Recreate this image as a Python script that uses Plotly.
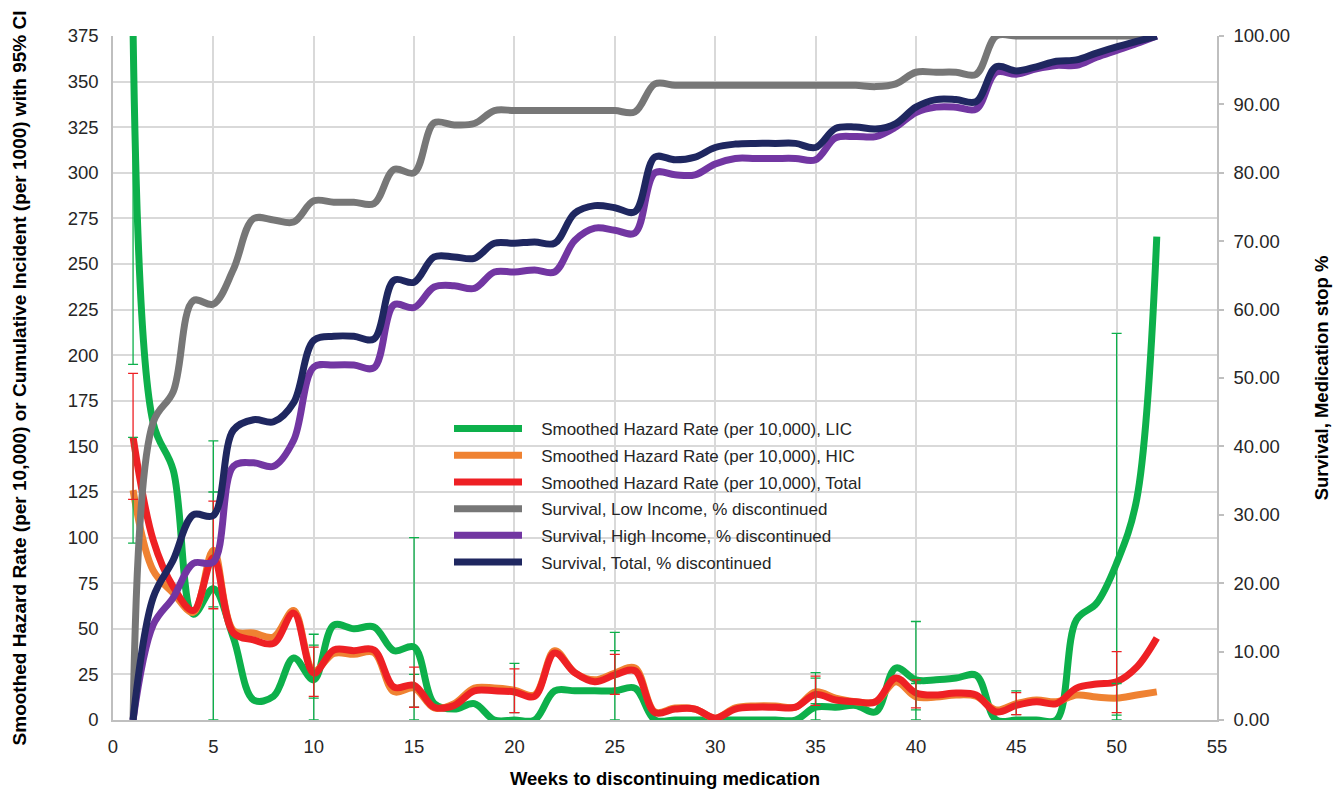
import plotly.graph_objects as go

weeks = list(range(1, 53))

# Smoothed hazard rates (per 10,000) - left axis
haz_lic = [378, 163, 137, 58, 72, 45, 11, 13, 34, 22, 52, 50, 51, 38, 40, 9, 6, 9, 0, 0,
           0, 16, 16, 16, 16, 17.5, 0, 0, 0, 0, 0, 0, 0, 0, 7, 7, 8, 4.5, 28.5, 22,
           22, 23, 24.5, 0, 0, 0, 0, 55, 64, 86, 121, 265]
haz_hic = [126, 82, 69.6, 59, 93, 49, 47.7, 45.5, 60, 27, 36.5, 36, 37, 15.5, 17.5, 6.6, 9, 17.5, 17.5, 16.4,
           13.7, 38, 26, 22, 25.7, 28.5, 4.4, 6.6, 6, 1, 6.6, 7.7, 7.7, 7, 15.4, 12, 10, 10, 21, 12.7,
           12.6, 13.7, 13, 5.5, 9, 11, 10, 13.7, 12.6, 12, 13.7, 15.4]
haz_total = [155, 98.7, 73, 60, 89, 47.7, 43.9, 42, 58.6, 25.7, 38.4, 38, 38.4, 18, 19, 7, 8, 16, 16, 15.4,
             13, 36.7, 26, 21, 24.7, 27, 4, 6, 6, 1, 6, 7, 7, 7, 14, 11, 10, 10, 23, 14.8,
             13.7, 14.8, 13.7, 4.4, 8, 10, 9, 17.5, 19.7, 21, 29, 45]

# Survival, % discontinued - right axis
surv_low = [0, 43.5, 48.0, 61.3, 60.8, 65.9, 73.3, 73.1, 72.8, 75.9, 75.7, 75.7, 75.5, 80.5, 80.0, 87.3, 87.0, 87.2, 89.1, 89.1,
            89.1, 89.1, 89.1, 89.1, 89.1, 88.9, 93.0, 92.8, 92.8, 92.8, 92.8, 92.8, 92.8, 92.8, 92.8, 92.8, 92.8, 92.6, 93.0, 94.7,
            94.7, 94.7, 94.4, 100, 100, 100, 100, 100, 100, 100, 100, 100]
surv_high = [0, 13.9, 17.9, 22.9, 23.1, 37.1, 37.6, 37.1, 40.9, 51.6, 51.9, 51.9, 51.5, 60.7, 60.3, 63.3, 63.5, 63.1, 65.5, 65.5,
             65.8, 65.5, 70.1, 71.9, 71.6, 71.2, 80.0, 79.7, 79.7, 81.3, 82.1, 82.1, 82.1, 82.1, 81.9, 85.1, 85.3, 85.3, 86.7, 88.8,
             89.6, 89.6, 89.3, 94.7, 94.4, 95.2, 95.7, 95.7, 96.9, 97.9, 98.9, 100]
surv_total = [0, 17.9, 23.4, 30.0, 29.9, 42.4, 43.9, 43.6, 46.4, 55.5, 56.1, 56.1, 55.7, 64.3, 64.0, 67.7, 67.7, 67.5, 69.7, 69.7,
              69.9, 69.7, 74.1, 75.2, 74.9, 74.3, 82.3, 81.9, 82.3, 83.7, 84.2, 84.3, 84.3, 84.3, 83.7, 86.5, 86.7, 86.4, 87.2, 89.6,
              90.7, 90.7, 90.4, 95.5, 94.9, 95.5, 96.3, 96.5, 97.5, 98.4, 99.2, 100]

# 95% CI (left axis units)
ci_lic_weeks = [1, 5, 10, 15, 25, 35, 40, 50]
ci_lic_lo = [195, 0, 0, 0, 0, 0, 0, 0]
ci_lic_hi = [600, 153, 47, 100, 48, 26, 54, 212]

ci_weeks = [1, 5, 10, 15, 20, 25, 35, 40, 45, 50]
ci_hic_lo = [97, 62, 12, 7, 4, 15, 9, 5.5, 3, 2.7]
ci_hic_hi = [155, 125, 41, 25, 31, 38, 23, 20, 16, 20]
ci_tot_lo = [121, 61, 13, 7, 4, 14, 8, 6.6, 3, 4]
ci_tot_hi = [190, 120, 40, 29, 28, 36, 24, 22, 15, 37.5]

names = [
    "Smoothed Hazard Rate (per 10,000), LIC",
    "Smoothed Hazard Rate (per 10,000), HIC",
    "Smoothed Hazard Rate (per 10,000), Total",
    "Survival, Low Income, % discontinued",
    "Survival, High Income, % discontinued",
    "Survival, Total, % discontinued",
]

C_GREEN = "#0DB04B"
C_ORANGE = "#EF8232"
C_RED = "#EE2024"
C_GRAY = "#777777"
C_PURPLE = "#7236A2"
C_NAVY = "#1F2760"

FONT = "Liberation Sans, Arial, sans-serif"
LW = 7
PAD = "\u00a0\u00a0\u00a0"

fig = go.Figure()

hazard = [(haz_lic, C_GREEN), (haz_hic, C_ORANGE), (haz_total, C_RED)]
for i, (ys, col) in enumerate(hazard):
    fig.add_trace(go.Scatter(
        x=weeks, y=ys, name=PAD + names[i], mode="lines",
        line=dict(color=col, width=LW, shape="spline", smoothing=1),
        yaxis="y", legendgroup=f"g{i}", legendrank=i + 1,
    ))


def err_trace(wks, series, lo, hi, col):
    yc = [series[w - 1] for w in wks]
    plus = [h - y for h, y in zip(hi, yc)]
    minus = [y - l for l, y in zip(lo, yc)]
    return go.Scatter(
        x=wks, y=yc, mode="markers", marker=dict(size=1, opacity=0),
        error_y=dict(type="data", array=plus, arrayminus=minus, color=col,
                     thickness=1.3, width=5, visible=True),
        showlegend=False, hoverinfo="skip", yaxis="y",
    )


fig.add_trace(err_trace(ci_lic_weeks, haz_lic, ci_lic_lo, ci_lic_hi, C_GREEN))
fig.add_trace(err_trace(ci_weeks, haz_hic, ci_hic_lo, ci_hic_hi, C_GREEN))
fig.add_trace(err_trace(ci_weeks, haz_total, ci_tot_lo, ci_tot_hi, C_RED))

survival = [(surv_low, C_GRAY), (surv_high, C_PURPLE), (surv_total, C_NAVY)]
for j, (ys, col) in enumerate(survival):
    fig.add_trace(go.Scatter(
        x=weeks, y=ys, name=PAD + names[3 + j], mode="lines",
        line=dict(color=col, width=LW, shape="spline", smoothing=1),
        yaxis="y2", legendgroup=f"g{3 + j}", legendrank=4 + j,
    ))

# page has an 8px body margin; figure coords = page coords - 8
W, H = 1335, 782
ML, MT = 105, 28
PX0, PX1, PY0, PY1 = 113, 1217, 36, 720  # plot area in page pixels
MR = W - (PX1 - 8)
MB = H - (PY1 - 8)


def px_x(p):
    return (p - PX0) / (PX1 - PX0)


def px_y(p):
    return (PY1 - p) / (PY1 - PY0)


# white panel behind the legend, above gridlines
fig.add_shape(type="rect", xref="paper", yref="paper",
              x0=px_x(445), x1=px_x(1015), y0=px_y(585), y1=px_y(404),
              fillcolor="white", line=dict(width=0), layer="between")

GRID = "#D9D9D9"
TICKF = dict(family=FONT, size=18.5, color="#262626")
fig.update_layout(
    width=W, height=H,
    margin=dict(l=ML, r=MR, t=MT, b=MB, autoexpand=False),
    plot_bgcolor="white", paper_bgcolor="white",
    font=dict(family=FONT, size=17, color="#262626"),
    showlegend=True,
    legend=dict(
        x=px_x(449), y=px_y(411), xanchor="left", yanchor="top",
        bgcolor="rgba(255,255,255,0)", borderwidth=0,
        font=dict(family=FONT, size=17, color="#262626"),
        traceorder="grouped", tracegroupgap=1.6, itemwidth=68,
    ),
    xaxis=dict(
        range=[0, 55], tick0=0, dtick=5, showgrid=True, gridcolor=GRID, gridwidth=1.5,
        zeroline=False, showline=True, linecolor="#BFBFBF", linewidth=1.5,
        ticks="", ticklabelstandoff=9, tickfont=TICKF,
        title=dict(text="<b>Weeks to discontinuing medication</b>", standoff=16,
                   font=dict(family=FONT, size=18.5, color="#000000")),
    ),
    yaxis=dict(
        range=[0, 375], tick0=0, dtick=25, showgrid=True, gridcolor=GRID, gridwidth=1.5,
        zeroline=False, showline=True, linecolor="#BFBFBF", linewidth=1.5,
        ticks="", ticklabelstandoff=9, tickfont=TICKF,
        title=dict(text="<b>Smoothed Hazard Rate (per 10,000) or Cumulative Incident (per 1000) with 95% CI</b>",
                   standoff=36, font=dict(family=FONT, size=19, color="#000000")),
    ),
    yaxis2=dict(
        range=[0, 100], tick0=0, dtick=10, overlaying="y", side="right",
        showgrid=False, zeroline=False, showline=True, linecolor="#BFBFBF", linewidth=1.5,
        ticks="outside", ticklen=5, tickcolor="#BFBFBF", tickwidth=1.5,
        tickformat=".2f", ticklabelstandoff=6, tickfont=TICKF,
        title=dict(text="<b>Survival, Medication stop %</b>", standoff=26,
                   font=dict(family=FONT, size=18.5, color="#000000")),
    ),
)

fig.write_html("out.html")
